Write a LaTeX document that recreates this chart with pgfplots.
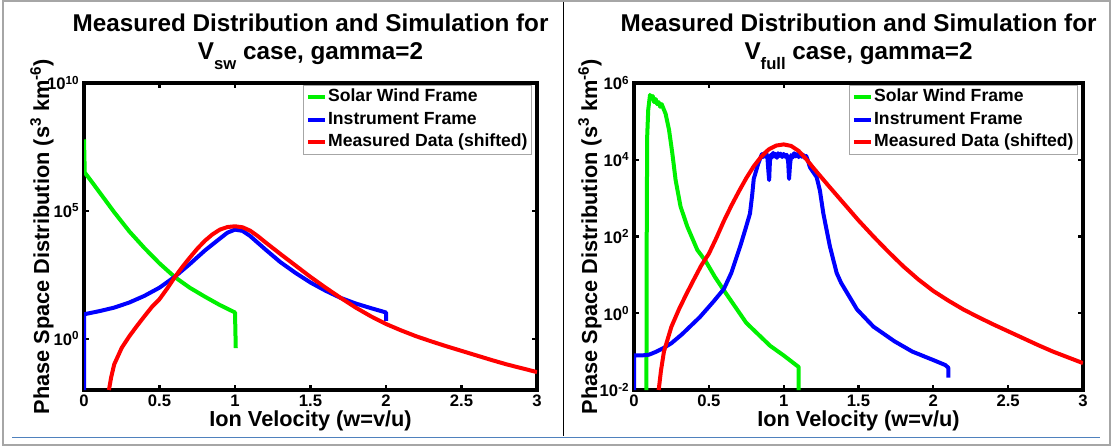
\documentclass[border=0pt]{standalone}
\usepackage{fontspec}
\setmainfont{Liberation Sans}
\usepackage{pgfplots}
\pgfplotsset{compat=1.18}
\definecolor{mgreen}{RGB}{0,240,0}
\definecolor{mblue}{RGB}{0,0,255}
\definecolor{mred}{RGB}{255,0,0}
\definecolor{capblue}{RGB}{79,129,189}

\pgfplotsset{
  panel/.style={
    scale only axis, height=230.25pt,
    xmin=0, xmax=3,
    axis line style={line width=2.4pt},
    tick style={black, line width=1.6pt}, major tick length=4pt,
    tick align=inside,
    xtick={0,0.5,1,1.5,2,2.5,3}, xticklabels={0,0.5,1,1.5,2,2.5,3},
    xminorticks=false, yminorticks=false,
    ticklabel style={font=\fontsize{12.5}{12.5}\selectfont\bfseries},
    xticklabel style={anchor=base, yshift=-12.6pt, inner sep=0pt},
    label style={font=\fontsize{16.3}{16.3}\selectfont\bfseries},
    xlabel={Ion Velocity (w=v/u)},
    ylabel={Phase Space Distribution (s\textsuperscript{3} km\textsuperscript{-6})},
    xlabel style={at={(axis description cs:0.5,-0.1175)}, anchor=base, inner sep=0pt},
    legend cell align=left,
    legend style={at={(1,1)}, anchor=north east, xshift=-3.75pt, yshift=-1.5pt,
      draw=gray!70, line width=0.6pt, inner xsep=2pt, inner ysep=1pt,
      font=\fontsize{13.2}{13.2}\selectfont\bfseries,
      nodes={inner sep=1pt, text height=10pt, text depth=3.5pt}, row sep=1.5pt},
    legend image code/.code={\draw[##1] (0pt,0pt) -- (12.75pt,0pt);},
    every axis plot/.append style={line width=3pt, line join=round},
  }
}

\pgfplotstableread{
x y
0.165 0.01
0.18 0.0316
0.2 0.1
0.25 0.4467
0.3 1.259
0.35 3.162
0.4 7.586
0.45 17.78
0.5 35.48
0.55 91.2
0.6 251.2
0.65 631.0
0.7 1479
0.75 3311
0.8 6761
0.85 12020
0.9 18620
0.95 23440
1.0 25120
1.05 22910
1.1 16980
1.15 10470
1.2 6026
1.3 2089
1.4 741.3
1.5 263.0
1.6 100
1.7 39.81
1.8 16.60
1.9 7.586
2.0 3.802
2.1 2.138
2.2 1.259
2.3 0.7943
2.4 0.5129
2.5 0.3388
2.6 0.2239
2.7 0.1479
2.8 0.1
2.9 0.07079
3.0 0.05012
}\redmeas

\pgfplotstableread{
x y
0 63100000
0.005 3162000
0.05 1413000
0.1 562300
0.2 89130
0.3 15850
0.4 3548
0.5 891.3
0.6 263.0
0.7 100
0.8 44.67
0.9 20.89
1.0 10.72
1.005 0.4365
}\greenL

\pgfplotstableread{
x y
0 0.01
0 9.12
0.1 12.02
0.2 16.60
0.3 26.30
0.4 47.86
0.5 100
0.6 263.0
0.7 831.8
0.8 2818
0.9 8318
0.95 14130
1.0 18620
1.05 16600
1.1 10470
1.2 3162
1.3 1000
1.4 380.2
1.5 158.5
1.6 75.86
1.7 39.81
1.8 23.99
1.9 15.85
2.0 10.72
2.0 5.012
}\blueL

\pgfplotstableread{
x y
0.083 0.01
0.085 100
0.088 39810
0.095 199500
0.107 489800
0.115 398100
0.125 457100
0.135 316200
0.145 380200
0.155 281800
0.165 316200
0.175 239900
0.185 281800
0.195 223900
0.211 158500
0.234 60260
0.256 14790
0.278 2951
0.311 602.6
0.356 182.0
0.423 44.67
0.48 22.39
0.54 8.913
0.6 3.981
0.75 0.5623
0.91 0.1413
1.0 0.07943
1.1 0.03981
1.1 0.01
}\greenR

\pgfplotstableread{
x y
0 0.01
0 0.07943
0.05 0.07943
0.1 0.08318
0.15 0.1
0.2 0.1259
0.25 0.166
0.32 0.2818
0.44 0.7943
0.53 1.995
0.6 4.266
0.65 11.22
0.68 25.12
0.71 56.23
0.745 158.5
0.775 398.1
0.79 1259
0.8 3162
0.83 7943
0.845 11220
0.855 14130
0.862 11750
0.87 14790
0.877 12020
0.885 14450
0.892 10720
0.898 5012
0.903 2951
0.908 8913
0.915 13490
0.922 11480
0.93 15140
0.938 12300
0.946 14130
0.955 11220
0.963 14790
0.972 12590
0.98 14450
0.99 11750
1.0 14130
1.01 12020
1.02 13490
1.03 8913
1.036 3162
1.042 7079
1.05 13180
1.06 11480
1.07 14790
1.08 12300
1.09 14130
1.1 11750
1.11 14450
1.12 12020
1.13 13490
1.14 11220
1.15 12590
1.16 10000
1.176 6310
1.22 3548
1.242 1585
1.265 398.1
1.309 54.95
1.354 11.22
1.384 6.166
1.49 1.259
1.6 0.4467
1.74 0.1862
1.86 0.1
2.0 0.06026
2.08 0.04467
2.1 0.0380
2.1 0.02089
}\blueR

\begin{document}
\begin{tikzpicture}
\useasboundingbox (0,0) rectangle (834.75pt,335.25pt);
\draw[gray!70, line width=1.5pt] (2.25pt,1.5pt) rectangle (832.5pt,334.5pt);
\draw[black, line width=0.75pt] (422.25pt,333.75pt) -- (422.25pt,8.25pt);
\draw[capblue, line width=0.75pt] (9pt,7.5pt) -- (825pt,7.5pt);

% Left panel
\begin{semilogyaxis}[panel, at={(63pt,42.75pt)}, anchor=south west, width=339.75pt,
  ymin=1e-2, ymax=1e10,
  ytick={1,1e5,1e10}, yticklabels={10\textsuperscript{0},10\textsuperscript{5},10\textsuperscript{10}},
  ylabel style={at={(axis description cs:-0.0927,0.5)}, anchor=center}]
\addplot[mgreen] table {\greenL};
\addplot[mblue] table {\blueL};
\addplot[mred] table {\redmeas};
\legend{Solar Wind Frame, Instrument Frame, Measured Data (shifted)}
\end{semilogyaxis}

% Right panel
\begin{semilogyaxis}[panel, at={(475.5pt,42.75pt)}, anchor=south west, width=336.75pt,
  ymin=1e-2, ymax=1e6,
  ytick={1e-2,1,1e2,1e4,1e6},
  yticklabels={10\textsuperscript{-2},10\textsuperscript{0},10\textsuperscript{2},10\textsuperscript{4},10\textsuperscript{6}},
  ylabel style={at={(axis description cs:-0.098,0.5)}, anchor=center}]
\addplot[mgreen] table {\greenR};
\addplot[mblue] table {\blueR};
\addplot[mred] table {\redmeas};
\legend{Solar Wind Frame, Instrument Frame, Measured Data (shifted)}
\end{semilogyaxis}

\begin{scope}[font=\fontsize{18.2}{18.2}\selectfont\bfseries]
\node[anchor=base] at (232.9pt,311.25pt) {Measured Distribution and Simulation for};
\node[anchor=base] at (232.9pt,290.25pt) {V\raisebox{-7.5pt}{\fontsize{12.5}{12.5}\selectfont sw} case, gamma=2};
\node[anchor=base] at (643.9pt,311.25pt) {Measured Distribution and Simulation for};
\node[anchor=base] at (643.9pt,290.25pt) {V\raisebox{-7.5pt}{\fontsize{12.5}{12.5}\selectfont full} case, gamma=2};
\end{scope}
\end{tikzpicture}
\end{document}
